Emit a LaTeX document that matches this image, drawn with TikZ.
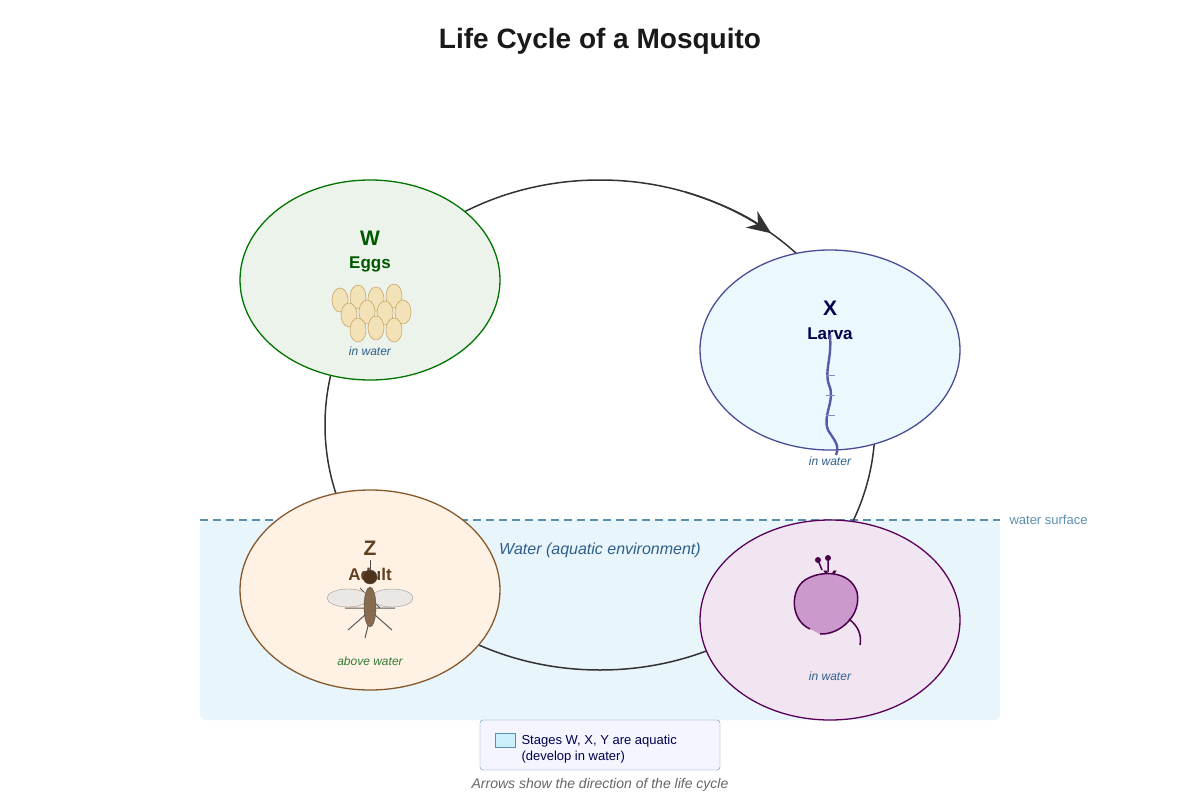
\documentclass[tikz,border=0pt]{standalone}
\usepackage{fontspec}
\setmainfont{Liberation Sans}
\usetikzlibrary{arrows.meta,shapes.geometric}
\definecolor{water}{HTML}{E8F5FA}
\definecolor{surf}{HTML}{5A8FB0}
\definecolor{aqua}{HTML}{2F5F8A}
\definecolor{EggLine}{HTML}{C9A96A}
\definecolor{EggFill}{HTML}{F3E2B8}
\tikzset{
	stage/.style={draw, ellipse, line width=1.3pt, minimum width=260pt, minimum height=200pt},
	letter/.style={font=\bfseries\fontsize{21}{21}\selectfont},
	stagename/.style={font=\bfseries\fontsize{17}{17}\selectfont},
	where/.style={font=\itshape\fontsize{12}{12}\selectfont, text=aqua},
	egg/.style={draw=EggLine, fill=EggFill, line width=0.6pt}
}
\begin{document}
\begin{tikzpicture}[x=1pt,y=-1pt]
	\useasboundingbox (0,0) rectangle (1200,800);
	\node[font=\bfseries\fontsize{28}{28}\selectfont, text=black!90] (title) at (600,41) {Life Cycle of a Mosquito};
	% water region
	\fill[water, rounded corners=6pt] (200,520) rectangle (1000,720);
	\draw[surf, dashed, dash pattern=on 8pt off 5pt, line width=1.2pt] (200,520) -- (1000,520);
	\node[anchor=west, text=surf, font=\fontsize{13}{13}\selectfont] (surface) at (1006,520) {water surface};
	\node[font=\itshape\fontsize{16}{16}\selectfont, text=aqua] (watertxt) at (600,550) {Water (aquatic environment)};
	% cycle
	\draw[black!80, line width=1.5pt] (600,425) ellipse (275 and 245);
	\draw[black!80, line width=1.5pt, -{Stealth[length=24pt,width=20pt]}] ([shift={(-72:275 and 245)}]600,425) arc (-72:-51.5:275 and 245);
	% stages
	\node[stage, draw=green!45!black, fill=green!40!black!8] (W) at (370,280) {};
	\node[stage, draw=blue!40!black!70, fill=blue!30!cyan!8] (X) at (830,350) {};
	\node[stage, draw=brown!70!black, fill=orange!10] (Z) at (370,590) {};
	\node[stage, draw=violet!70!black, fill=violet!10] (Y) at (830,620) {};
	% eggs
	\node[letter, text=green!35!black] at (370,238) {W};
	\node[stagename, text=green!35!black] at (370,264) {Eggs};
	\foreach \ex/\ey in {340/300,358/297,376/299,394/296,349/315,367/312,385/313,403/312,358/330,376/328,394/330}
		\draw[egg] (\ex,\ey) ellipse (8 and 12);
	\node[where] at (370,351) {in water};
	% larva
	\node[letter, text=blue!30!black] at (830,308) {X};
	\node[stagename, text=blue!30!black] at (830,334) {Larva};
	\draw[blue!30!gray, line width=2.4pt] (830,335) .. controls (832,360) and (824,370) .. (829,385)
		.. controls (836,400) and (822,415) .. (828,430) .. controls (834,440) and (840,445) .. (836,455);
	\foreach \ly in {375,395,415}
		\draw[blue!30!gray!70, line width=0.6pt] (826,\ly) -- (835,\ly);
	\node[where] at (830,461) {in water};
	% pupa
	\node[letter, text=violet!50!black] at (830,578) {Y};
	\draw[violet!60!black, line width=1.5pt] (822,570) -- (818,560) (828,572) -- (828,558);
	\fill[violet!60!black] (818,560) circle (3) (828,558) circle (3);
	\draw[violet!60!black, fill=violet!40, line width=1.5pt] (810,629) .. controls (790,620) and (790,590) .. (805,580)
		.. controls (820,570) and (850,570) .. (857,592) .. controls (862,615) and (840,635) .. (820,634);
	\draw[violet!60!black, line width=1.5pt] (849,619) .. controls (858,626) and (862,635) .. (860,645);
	\node[where] at (830,676) {in water};
	% adult
	\node[letter, text=brown!50!black] at (370,548) {Z};
	\node[stagename, text=brown!50!black] at (370,574) {Adult};
	\draw[black!65, line width=1pt] (360,588) -- (380,608) (345,608) -- (395,608) (365,615) -- (348,630) (375,615) -- (392,630) (368,626) -- (365,638);
	\draw[gray, fill=gray!20, opacity=0.8] (348,598) ellipse (21 and 9) (392,598) ellipse (21 and 9);
	\draw[black!70, fill=brown!55!black!80] (370,607) ellipse (6 and 20);
	\draw[black!70, fill=brown!40!black] (370,577) circle (7);
	\draw[black!70, line width=1pt] (370,570) -- (370,560);
	\node[where, text=green!35!black!80] at (370,661) {above water};
	% legend
	\node[draw=surf, fill=blue!4, rounded corners=3pt, minimum width=240pt, minimum height=50pt] (legend) at (600,745) {};
	\draw[surf, fill=cyan!20] (495,733) rectangle (515,747);
	\node[anchor=west, align=left, text=blue!30!black, font=\fontsize{13}{15.5}\selectfont] (legtxt) at (518,749) {Stages W, X, Y are aquatic\\(develop in water)};
	\node[font=\itshape\fontsize{14}{14}\selectfont, text=black!60] (note) at (600,785) {Arrows show the direction of the life cycle};
\end{tikzpicture}
\end{document}
